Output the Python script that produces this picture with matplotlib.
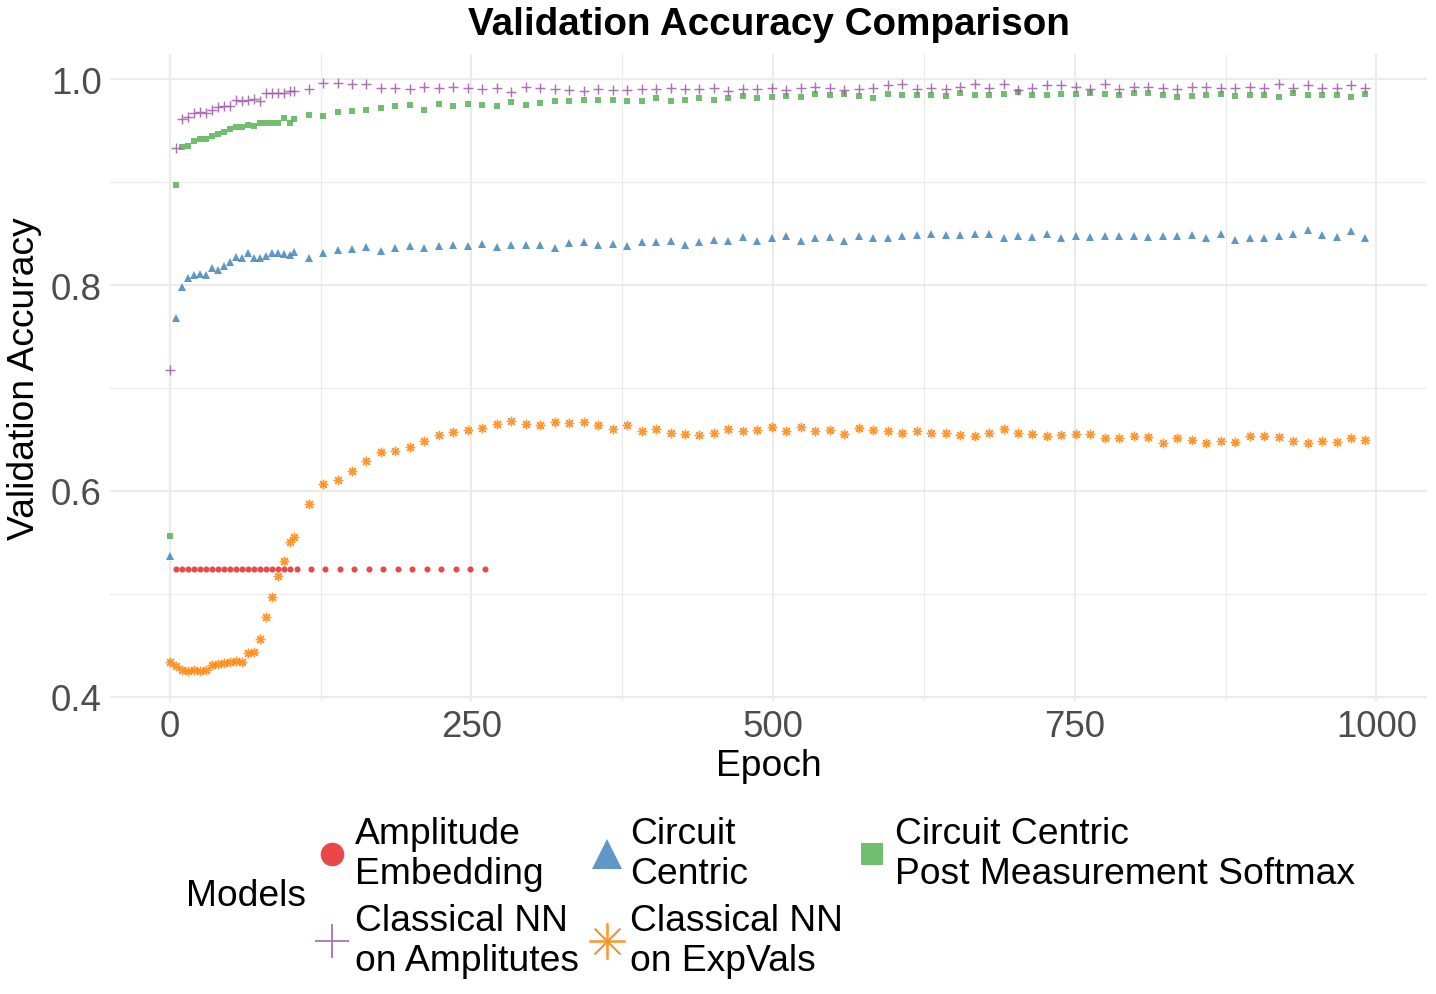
import matplotlib
matplotlib.use('Agg')
import matplotlib.pyplot as plt
from matplotlib.lines import Line2D

plt.rcParams['font.family'] = ['Liberation Sans', 'DejaVu Sans']

# ---------------- data ----------------
epochs = [0, 5, 10, 15, 20, 25, 30, 35, 40, 45, 50, 55, 60, 65, 70, 75, 80, 85, 90, 95, 100, 103,
          115, 127, 139, 151, 163, 175, 187, 199, 211, 223, 235, 247, 259, 271,
          283, 295, 307, 319, 331, 343, 355, 367, 379, 391, 403, 415, 427, 439, 451, 463,
          475, 487, 499, 511, 523, 535, 547, 559, 571, 583, 595, 607, 619, 631,
          643, 655, 667, 679, 691, 703, 715, 727, 739, 751, 763, 775, 787, 799, 811, 823,
          835, 847, 859, 871, 883, 895, 907, 919, 931, 943, 955, 967, 979, 991]

amp_epochs = [5, 10, 15, 20, 25, 30, 35, 40, 45, 50, 55, 60, 65, 70, 75, 80, 85, 90, 95, 100, 105,
              117, 129, 141, 153, 165, 177, 189, 201, 213, 225, 237, 249, 261]
amp_embedding = [0.524, 0.524, 0.524, 0.524, 0.524, 0.524, 0.524, 0.524, 0.524, 0.524, 0.524,
                 0.524, 0.524, 0.524, 0.524, 0.524, 0.524, 0.524, 0.524, 0.524, 0.524,
                 0.524, 0.524, 0.524, 0.524, 0.524, 0.524, 0.524, 0.524, 0.524, 0.524,
                 0.524, 0.524, 0.524]

circuit_centric = [0.537, 0.768, 0.798, 0.807, 0.810, 0.811, 0.810, 0.8165, 0.815, 0.8185, 0.822,
                   0.827, 0.826, 0.831, 0.826, 0.826, 0.828, 0.831, 0.831, 0.830, 0.829, 0.832,
                   0.826, 0.831, 0.834, 0.835, 0.837, 0.833, 0.836, 0.838, 0.836, 0.838, 0.839,
                   0.838, 0.840, 0.837,
                   0.8385, 0.839, 0.8385, 0.836, 0.841, 0.842, 0.8385, 0.840, 0.8375, 0.842,
                   0.842, 0.843, 0.8385, 0.842, 0.844, 0.843, 0.847, 0.843, 0.846, 0.848,
                   0.843, 0.846, 0.847, 0.843, 0.848, 0.846, 0.846, 0.848, 0.849, 0.8495,
                   0.849, 0.849, 0.850, 0.850, 0.846, 0.848, 0.847, 0.850, 0.846, 0.848,
                   0.847, 0.848, 0.848, 0.848, 0.847, 0.848, 0.848, 0.849, 0.846, 0.850,
                   0.844, 0.846, 0.846, 0.848, 0.850, 0.8535, 0.849, 0.847, 0.8525, 0.846]

circuit_centric_pms = [0.556, 0.897, 0.934, 0.935, 0.940, 0.942, 0.942, 0.945, 0.947, 0.949, 0.952,
                       0.954, 0.954, 0.956, 0.955, 0.958, 0.958, 0.958, 0.958, 0.962, 0.958, 0.961,
                       0.965, 0.964, 0.968, 0.969, 0.970, 0.972, 0.974, 0.975, 0.970, 0.976, 0.974,
                       0.976, 0.975, 0.974,
                       0.978, 0.975, 0.977, 0.979, 0.979, 0.980, 0.980, 0.980, 0.979, 0.979,
                       0.982, 0.979, 0.980, 0.982, 0.980, 0.982, 0.984, 0.982, 0.983, 0.984,
                       0.983, 0.986, 0.985, 0.986, 0.984, 0.982, 0.986, 0.985, 0.985, 0.985,
                       0.984, 0.987, 0.985, 0.985, 0.986, 0.988, 0.985, 0.985, 0.986, 0.986,
                       0.987, 0.986, 0.985, 0.987, 0.987, 0.985, 0.983, 0.984, 0.985, 0.986,
                       0.984, 0.985, 0.985, 0.983, 0.987, 0.985, 0.985, 0.985, 0.983, 0.986]

nn_amplitudes = [0.717, 0.933, 0.961, 0.963, 0.967, 0.968, 0.967, 0.970, 0.973, 0.974, 0.974,
                 0.980, 0.979, 0.980, 0.981, 0.979, 0.987, 0.987, 0.987, 0.987, 0.989, 0.989,
                 0.991, 0.996, 0.996, 0.995, 0.995, 0.992, 0.992, 0.991, 0.993, 0.992, 0.993,
                 0.992, 0.991, 0.992,
                 0.988, 0.993, 0.992, 0.991, 0.990, 0.989, 0.991, 0.990, 0.990, 0.991,
                 0.991, 0.992, 0.991, 0.991, 0.992, 0.989, 0.991, 0.991, 0.992, 0.990,
                 0.992, 0.993, 0.992, 0.990, 0.991, 0.992, 0.994, 0.995, 0.991, 0.992,
                 0.991, 0.993, 0.995, 0.992, 0.995, 0.990, 0.992, 0.994, 0.994, 0.993,
                 0.991, 0.995, 0.991, 0.993, 0.993, 0.992, 0.991, 0.993, 0.993, 0.992,
                 0.992, 0.993, 0.992, 0.995, 0.992, 0.994, 0.992, 0.992, 0.994, 0.992]

nn_expvals = [0.434, 0.430, 0.426, 0.425, 0.4255, 0.425, 0.426, 0.431, 0.432, 0.433, 0.434,
              0.435, 0.434, 0.442, 0.443, 0.456, 0.477, 0.497, 0.517, 0.532, 0.550, 0.555,
              0.5875, 0.607, 0.611, 0.619, 0.629, 0.638, 0.639, 0.643, 0.648, 0.6545, 0.657,
              0.659, 0.661, 0.665,
              0.668, 0.665, 0.664, 0.667, 0.666, 0.667, 0.664, 0.660, 0.664, 0.658,
              0.660, 0.6565, 0.6555, 0.6545, 0.6565, 0.660,
              0.658, 0.659, 0.662, 0.658, 0.662, 0.658, 0.659, 0.655, 0.661, 0.659,
              0.658, 0.6565, 0.658, 0.656, 0.656, 0.654, 0.653, 0.6565, 0.660, 0.6565,
              0.655, 0.653,
              0.654, 0.655, 0.655, 0.651, 0.651, 0.653, 0.652, 0.646, 0.651, 0.649,
              0.646, 0.648, 0.647, 0.653, 0.653, 0.652, 0.648, 0.646, 0.648, 0.647,
              0.651, 0.649]

labels = ["Amplitude\nEmbedding", "Circuit\nCentric", "Circuit Centric\nPost Measurement Softmax",
          "Classical NN\non Amplitutes", "Classical NN\non ExpVals"]
colors = ["#E41A1C", "#377EB8", "#4DAF4A", "#984EA3", "#FF7F00"]
markers = ["o", "^", "s", "+", (8, 2, 0)]

x_ticks = [0, 250, 500, 750, 1000]
y_ticks = [0.4, 0.6, 0.8, 1.0]
x_tick_labels = ["0", "250", "500", "750", "1000"]
y_tick_labels = ["0.4", "0.6", "0.8", "1.0"]

# ---------------- figure ----------------
W, H = 1436, 995
fig = plt.figure(figsize=(W / 100, H / 100), dpi=100)
fig.patch.set_facecolor('white')
L, R, T, B = 110, 1427, 55, 702
ax = fig.add_axes([L / W, 1 - B / H, (R - L) / W, (B - T) / H])

series = [(amp_epochs, amp_embedding), (epochs, circuit_centric), (epochs, circuit_centric_pms),
          (epochs, nn_amplitudes), (epochs, nn_expvals)]
plot_ms = [4.4, 5.8, 4.8, 7.6, 6.8]
plot_mew = [0, 0, 0, 1.05, 1.0]
alpha = 0.8
for (xs, ys), c, m, ms, mew in zip(series, colors, markers, plot_ms, plot_mew):
    ax.plot(xs, ys, linestyle='none', marker=m, markersize=ms, markeredgewidth=mew,
            color=c, alpha=alpha)

ax.set_xlim(-49.6, 1042)
ax.set_ylim(0.3957, 1.0246)
ax.set_xticks(x_ticks)
ax.set_xticklabels(x_tick_labels)
ax.set_yticks(y_ticks)
ax.set_yticklabels(y_tick_labels)
ax.set_xticks([125, 375, 625, 875], minor=True)
ax.set_yticks([0.5, 0.7, 0.9], minor=True)
ax.tick_params(which='both', length=0)
ax.tick_params(axis='x', pad=6, labelsize=26.4, labelcolor='#4D4D4D')
ax.tick_params(axis='y', pad=6, labelsize=26.4, labelcolor='#4D4D4D')
ax.grid(which='major', color='#EBEBEB', linewidth=1.5)
ax.grid(which='minor', color='#EBEBEB', linewidth=0.8)
ax.set_axisbelow(True)
for s in ax.spines.values():
    s.set_visible(False)

cx = (L + R) / 2 / W
fig.text(cx, 1 - 25 / H, "Validation Accuracy Comparison", ha='center', va='center',
         fontsize=27.8, fontweight='bold', color='black')
fig.text(cx, 1 - 766 / H, "Epoch", ha='center', va='center', fontsize=26.8, color='black')
fig.text(25 / W, 1 - (T + B) / 2 / H, "Validation Accuracy", ha='center', va='center',
         rotation=90, fontsize=26.8, color='black')
fig.text(186 / W, 1 - 897 / H, "Models", ha='left', va='center', fontsize=26.8, color='black')

# legend: order A, D, B, E, C so that column-major fill gives rows A B C / D E
leg_ms = [17, 22, 16.5, 24, 26]
leg_mew = [0, 0, 0, 1.3, 1.3]
order = [0, 3, 1, 4, 2]
handles = []
for i in order:
    handles.append(Line2D([], [], linestyle='none', marker=markers[i], markersize=leg_ms[i],
                          markeredgewidth=leg_mew[i], color=colors[i], alpha=alpha))
leg = fig.legend(handles, [labels[i] for i in order], loc='center left',
                 bbox_to_anchor=(313 / W, 1 - 898 / H), ncol=3, frameon=False,
                 fontsize=26.8, handlelength=1.0, handletextpad=0.12, columnspacing=0.27,
                 labelspacing=0.3, borderpad=0, borderaxespad=0)
for t in leg.get_texts():
    t.set_linespacing(1.2)

fig.savefig("out.png", dpi=100, facecolor='white')
